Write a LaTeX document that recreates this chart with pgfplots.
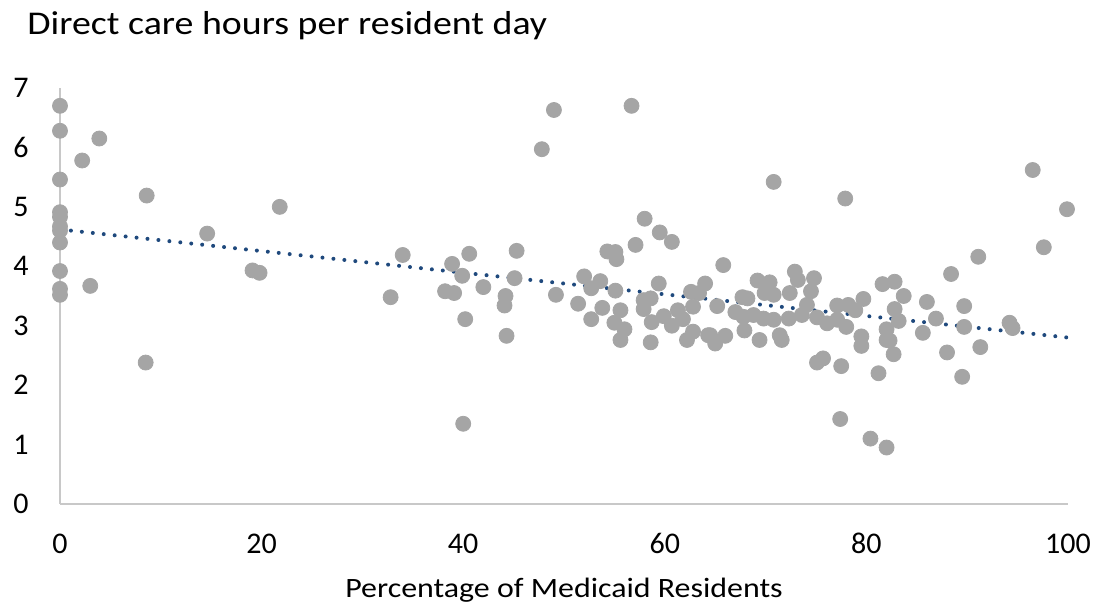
\documentclass[border=0pt]{standalone}
\usepackage{fontspec}
\setmainfont{Carlito}
\newfontfamily\widefont[FakeStretch=1.14]{Carlito}
\usepackage{pgfplots}
\pgfplotsset{compat=1.18}
\definecolor{dotgray}{RGB}{165,165,165}
\definecolor{axisgray}{RGB}{200,200,200}
\definecolor{trendblue}{RGB}{31,73,125}

\begin{document}
\begin{tikzpicture}
\useasboundingbox (-30pt,-52pt) rectangle (516.5pt,252pt);
\begin{axis}[
  scale only axis, width=504pt, height=208pt,
  xmin=0, xmax=100, ymin=0, ymax=7,
  axis x line=bottom, axis y line=left,
  axis line style={-, draw=axisgray, line width=0.8pt},
  major tick length=0pt,
  xtick={0,20,...,100}, ytick={0,1,...,7},
  /pgf/number format/assume math mode=true,
  ticklabel style={font=\fontsize{15}{18}\selectfont, text=black},
  xticklabel style={anchor=base, yshift=-25pt},
  yticklabel style={anchor=east, inner sep=0pt, xshift=-15.5pt},
  xlabel={Percentage of Medicaid Residents},
  xlabel style={at={(axis description cs:0.5,0)}, anchor=base, yshift=-47pt, font=\widefont\fontsize{14}{17}\selectfont},
  clip=false,
]
\addplot[only marks, mark=*, mark size=3.75pt, color=dotgray] coordinates {
  (0,6.70) (0,6.28) (0,5.46) (0,4.91) (0,4.83) (0,4.67) (0,4.60) (0,4.40) (0,3.92) (0,3.62) (0,3.52)
  (3.9,6.15) (2.2,5.78) (8.6,5.19) (21.8,5.00) (14.6,4.55) (19.1,3.93) (19.8,3.89) (3.0,3.67) (8.5,2.38)
  (49.0,6.63) (56.7,6.70) (47.8,5.97) (58.0,4.80) (59.5,4.57) (60.7,4.41) (34.0,4.19) (40.6,4.21)
  (45.3,4.26) (38.9,4.04) (39.9,3.84) (45.1,3.80) (32.8,3.48) (38.2,3.58) (39.1,3.55) (42.0,3.65)
  (44.2,3.50) (44.1,3.34) (40.2,3.11) (44.3,2.83) (49.2,3.52) (54.3,4.25) (55.1,4.24) (55.2,4.12)
  (57.1,4.36) (52.0,3.83) (53.6,3.75) (52.7,3.63) (55.1,3.59) (51.4,3.37) (53.8,3.30) (55.6,3.26)
  (52.7,3.11) (55.0,3.05) (56.0,2.94) (55.6,2.76) (58.6,2.72) (59.4,3.71) (57.9,3.43) (58.6,3.46)
  (57.9,3.28) (58.7,3.06) (59.9,3.16) (60.7,3.00) (61.3,3.26) (61.8,3.11) (62.6,3.57) (63.4,3.55)
  (62.8,3.32) (64.0,3.71) (62.8,2.90) (62.2,2.76) (64.3,2.84)
  (70.8,5.42) (77.9,5.14) (96.5,5.62) (99.9,4.96) (97.6,4.32) (91.1,4.16) (88.4,3.87) (65.8,4.02)
  (65.2,3.33) (69.2,3.76) (70.4,3.73) (69.9,3.55) (70.8,3.52) (67.7,3.48) (68.2,3.46) (67.0,3.23)
  (67.8,3.15) (68.8,3.18) (69.8,3.12) (70.8,3.10) (72.4,3.55) (72.9,3.91) (73.2,3.77) (74.8,3.80)
  (74.5,3.58) (74.1,3.35) (72.3,3.12) (73.6,3.18) (75.1,3.14) (76.1,3.04) (77.1,3.34) (78.2,3.35)
  (78.9,3.26) (79.7,3.45) (78.0,2.98) (77.1,3.10) (64.5,2.84) (65.0,2.70) (66.0,2.83) (67.9,2.92)
  (69.4,2.76) (71.4,2.84) (71.6,2.76) (75.1,2.38) (75.7,2.45) (77.5,2.32) (81.2,2.20) (89.5,2.14)
  (81.6,3.70) (82.8,3.74) (83.7,3.50) (82.8,3.28) (83.2,3.08) (82.0,2.94) (82.0,2.76) (82.3,2.75)
  (79.5,2.82) (79.5,2.66) (82.7,2.52) (86.0,3.40) (86.9,3.12) (85.6,2.88) (88.0,2.55) (89.7,3.33)
  (89.7,2.98) (91.3,2.64) (94.2,3.05) (94.5,2.96)
  (40.0,1.35) (77.4,1.43) (80.4,1.10) (82.0,0.95)
};
% linear trend line
\addplot[trendblue, line width=2pt, line cap=round, dash pattern=on 0pt off 5.5pt] coordinates {(0,4.62) (100,2.80)};
\end{axis}
\node[anchor=base west, font=\widefont\fontsize{16.6}{20}\selectfont, inner sep=0pt] at (-16.5pt,234.5pt) {Direct care hours per resident day};
\end{tikzpicture}
\end{document}
